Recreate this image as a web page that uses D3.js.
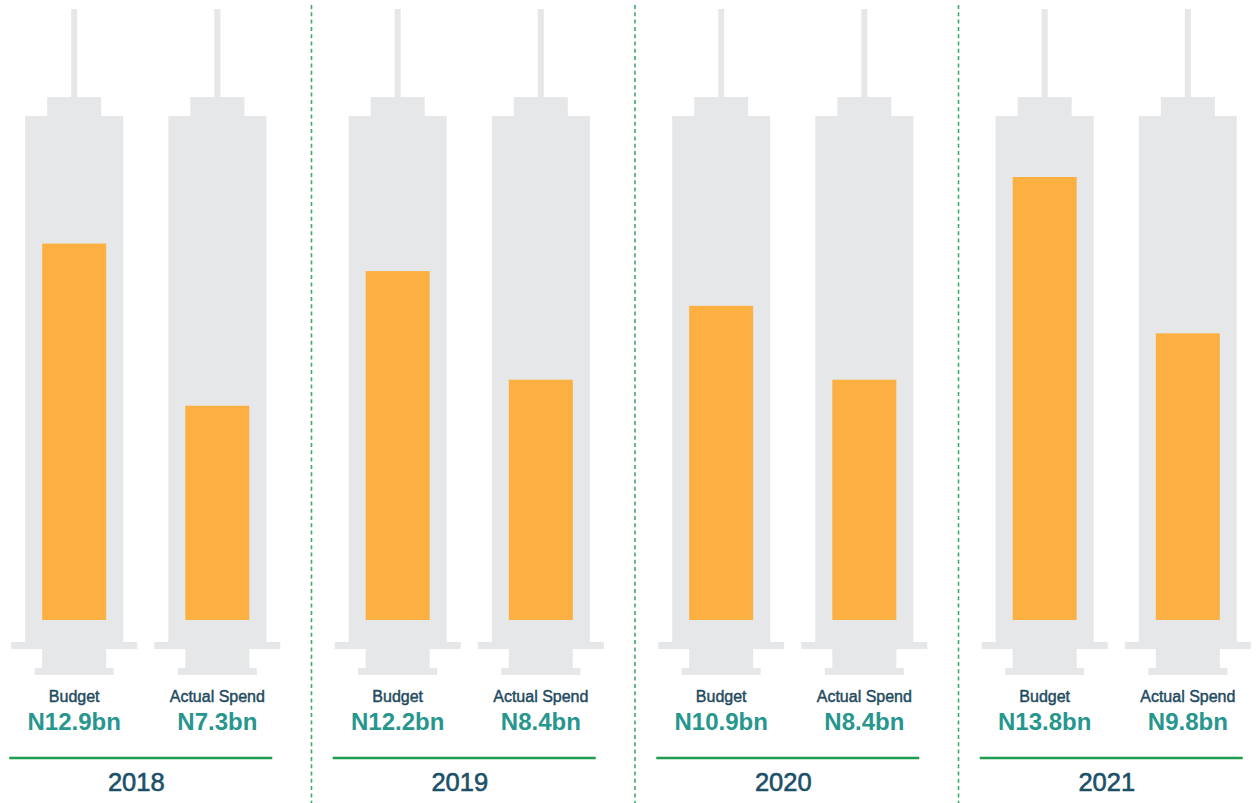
<!DOCTYPE html>
<html>
<head>
<meta charset="utf-8">
<script src="https://cdn.jsdelivr.net/npm/d3@7"></script>
<style>
  html, body { margin: 0; padding: 0; background: #fff; }
  svg { display: block; font-family: "Liberation Sans", Arial, sans-serif; }
</style>
</head>
<body>
<svg></svg>
<script>
const years = ['2018', '2019', '2020', '2021'];
const kinds = ['Budget', 'Actual Spend'];
// values printed under each syringe (N bn)
const budget = [12.9, 12.2, 10.9, 13.8];
const actual = [7.3, 8.4, 8.4, 9.8];
// fill level as drawn in the source picture (2021 budget is drawn taller than its label)
const budgetFill = [13.0, 12.05, 10.85, 15.3];
const actualFill = [7.4, 8.3, 8.3, 9.9];

const width = 1258, height = 803;
const svg = d3.select('svg')
  .attr('width', width)
  .attr('height', height);

const data = years.flatMap((yr, i) => [
  { year: yr, kind: kinds[0], value: budget[i], fill: budgetFill[i] },
  { year: yr, kind: kinds[1], value: actual[i], fill: actualFill[i] }
]);

const xYear = d3.scaleBand()
  .domain(years)
  .range([-16, 1278])
  .padding(0);

const xKind = d3.scalePoint()
  .domain(kinds)
  .range([0, xYear.bandwidth()])
  .padding(0.63);

const yScale = d3.scaleLinear()
  .domain([0, 15.3])
  .range([620, 177]);

const cx = d => xYear(d.year) + xKind(d.kind);

// dashed dividers between years
svg.append('g')
  .selectAll('line')
  .data(years.slice(1))
  .join('line')
    .attr('x1', d => xYear(d) + 4)
    .attr('x2', d => xYear(d) + 4)
    .attr('y1', 5)
    .attr('y2', height)
    .attr('stroke', '#3fa86b')
    .attr('stroke-width', 1.6)
    .attr('stroke-dasharray', '4 3.3');

const grey = '#e6e7e8';
const syr = svg.append('g')
  .selectAll('g')
  .data(data)
  .join('g')
    .attr('transform', d => `translate(${cx(d)},0)`);

// syringe body parts: [halfWidth, top, bottom]
const parts = [
  [3, 9, 97],      // needle
  [27, 97, 117],   // hub
  [49, 116, 643],  // barrel
  [63, 642, 649],  // flange
  [32, 648, 669],  // plunger stem
  [39.5, 668, 675] // plunger base
];
parts.forEach(p => {
  syr.append('rect')
    .attr('x', -p[0])
    .attr('width', p[0] * 2)
    .attr('y', p[1])
    .attr('height', p[2] - p[1])
    .attr('fill', grey);
});

syr.append('rect')
  .attr('x', -32)
  .attr('width', 64)
  .attr('y', d => yScale(d.fill))
  .attr('height', d => yScale(0) - yScale(d.fill))
  .attr('fill', '#fbb041');

syr.append('text')
  .attr('y', 702)
  .attr('text-anchor', 'middle')
  .attr('font-size', 16)
  .attr('fill', '#1f4b60')
  .attr('stroke', '#1f4b60')
  .attr('stroke-width', 0.45)
  .text(d => d.kind);

syr.append('text')
  .attr('y', 730)
  .attr('text-anchor', 'middle')
  .attr('font-size', 24)
  .attr('font-weight', 'bold')
  .attr('fill', '#27968e')
  .text(d => `N${d.value.toFixed(1)}bn`);

// year underline and label
const yg = svg.append('g')
  .selectAll('g')
  .data(years)
  .join('g')
    .attr('transform', d => `translate(${xYear(d) + xYear.bandwidth() / 2},0)`);

yg.append('line')
  .attr('x1', -136.5)
  .attr('x2', 126.5)
  .attr('y1', 758)
  .attr('y2', 758)
  .attr('stroke', '#1f9d4f')
  .attr('stroke-width', 2.5);

yg.append('text')
  .attr('x', -9.5)
  .attr('y', 791)
  .attr('text-anchor', 'middle')
  .attr('font-size', 25.5)
  .attr('fill', '#1b5068')
  .attr('stroke', '#1b5068')
  .attr('stroke-width', 0.6)
  .text(d => d);
</script>
</body>
</html>
